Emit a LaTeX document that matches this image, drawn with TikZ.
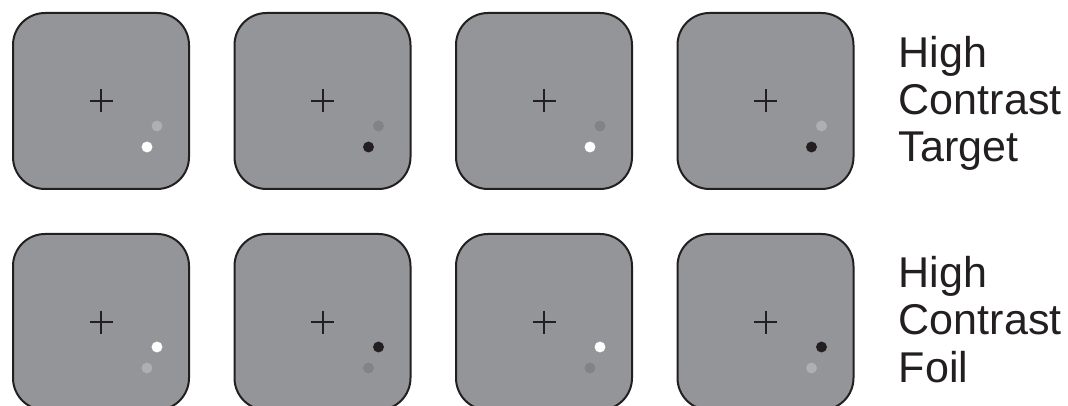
\documentclass[tikz,border=0pt]{standalone}
\usepackage{fontspec}
\setmainfont{Liberation Sans}
\usepackage{xcolor}
\usepackage{tikz}
\usetikzlibrary{positioning}
\definecolor{ink}{HTML}{231F20}
\definecolor{screen}{HTML}{939598}
\definecolor{dimdot}{HTML}{818386}
\definecolor{paledot}{HTML}{ADAFB2}

\begin{document}
\begin{tikzpicture}[
    x=0.75pt, y=-0.75pt,
    panel/.style={draw=ink, fill=screen, line width=1.5pt, rounded corners=24pt, minimum size=132pt, inner sep=0pt},
    fixcross/.style={draw=ink, line width=1.5pt},
    spot/.style={circle, inner sep=0pt, minimum size=8.2pt},
    condname/.style={inner sep=0pt, align=left, text=ink, font=\fontsize{32.3}{35.6}\selectfont}
]
    \useasboundingbox (0,0) rectangle (1068,406);
    \clip (0,0) rectangle (1068,406);

    % Panels, top row (target) and bottom row (foil)
    \foreach \i/\tgt/\ref in {1/white/paledot, 2/ink/dimdot, 3/white/dimdot, 4/ink/paledot} {
        \node[panel] (tgt\i) at ({101+221.5*(\i-1)}, 101) {};
        \node[panel] (foil\i) at ({101+221.5*(\i-1)}, 322) {};

        % Fixation crosses
        \draw[fixcross] ([shift={(-11.5,0)}]tgt\i.center) -- ([shift={(11.5,0)}]tgt\i.center);
        \draw[fixcross] ([shift={(0,-11.5)}]tgt\i.center) -- ([shift={(0,11.5)}]tgt\i.center);
        \draw[fixcross] ([shift={(-11.5,0)}]foil\i.center) -- ([shift={(11.5,0)}]foil\i.center);
        \draw[fixcross] ([shift={(0,-11.5)}]foil\i.center) -- ([shift={(0,11.5)}]foil\i.center);

        % Dots
        \node[spot, fill=\ref] (tgtref\i) at ([shift={(56,25)}]tgt\i.center) {};
        \node[spot, fill=\tgt] (tgtdot\i) at ([shift={(46,46)}]tgt\i.center) {};
        \node[spot, fill=\tgt] (foildot\i) at ([shift={(56,25)}]foil\i.center) {};
        \node[spot, fill=\ref] (foilref\i) at ([shift={(46,46)}]foil\i.center) {};
    }

    % Labels (base = last line)
    \node[condname, anchor=base west] (tgtname) at (898.5,162) {High\\Contrast\\Target};
    \node[condname, anchor=base west] (foilname) at (898.5,382) {High\\Contrast\\Foil};
\end{tikzpicture}
\end{document}
